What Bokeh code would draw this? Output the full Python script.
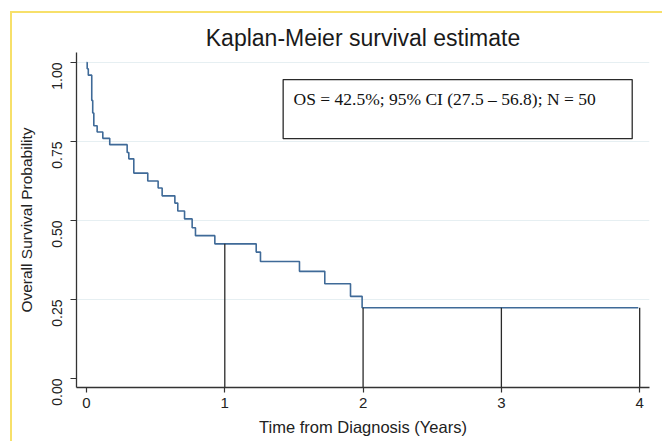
from bokeh.plotting import figure
from bokeh.models import FixedTicker, Range1d, BoxAnnotation, Label, InlineStyleSheet
from bokeh.embed import file_html
from bokeh.resources import INLINE
import math

# --- data (Kaplan-Meier step function) ---
time_years = [0.000, 0.005, 0.013, 0.038, 0.045, 0.053, 0.077, 0.118, 0.168,
              0.294, 0.306, 0.342, 0.443, 0.518, 0.547, 0.639, 0.660, 0.709,
              0.764, 0.788, 0.928, 1.227, 1.258, 1.540, 1.723, 1.909, 1.993, 3.990]
survival = [1.000, 0.980, 0.960, 0.880, 0.840, 0.800, 0.780, 0.760, 0.740,
            0.715, 0.695, 0.650, 0.625, 0.603, 0.578, 0.555, 0.530, 0.505,
            0.477, 0.452, 0.426, 0.400, 0.370, 0.339, 0.300, 0.260, 0.224, 0.224]
marker_years = [1, 2, 3, 4]
x_ticks = [0, 1, 2, 3, 4]
x_tick_labels = ["0", "1", "2", "3", "4"]
y_ticks = [0.0, 0.25, 0.50, 0.75, 1.0]
y_tick_labels = ["0.00", "0.25", "0.50", "0.75", "1.00"]
annotation_text = "OS = 42.5%; 95% CI (27.5 \u2013 56.8); N = 50"

def surv_at(t):
    idx = max(i for i, tt in enumerate(time_years) if tt <= t)
    return survival[idx]

p = figure(width=662, height=441, output_backend="svg", toolbar_location=None,
           x_range=Range1d(-0.0723, 4.071), y_range=Range1d(-0.0285, 1.0316),
           min_border_left=76, min_border_right=13, min_border_top=52,
           min_border_bottom=54)
p.outline_line_color = None
p.background_fill_color = "white"
p.border_fill_color = "white"

# yellow page frame (top and left edges), drawn by CSS over the canvas
p.stylesheets = [InlineStyleSheet(css="""
:host { position: relative; }
:host::after {
  content: ""; position: absolute; left: 10px; top: 11px; right: 0; bottom: 0;
  border-left: 2px solid #f7e06a; border-top: 2px solid #f7e06a;
  pointer-events: none; z-index: 10;
}
""")]

p.title.text = "Kaplan-Meier survival estimate"
p.title.align = "center"
p.title.text_font = "Liberation Sans"
p.title.text_font_size = "23px"
p.title.text_font_style = "normal"
p.title.text_color = "#1a1a1a"
p.title.standoff = 4

# grids
p.xgrid.visible = False
p.ygrid.ticker = FixedTicker(ticks=[v for v in y_ticks if v > 0])
p.ygrid.grid_line_color = "#e6eff2"
p.ygrid.grid_line_width = 1

# axes
for ax in (p.xaxis[0], p.yaxis[0]):
    ax.axis_line_color = "#333333"
    ax.axis_line_width = 1.3
    ax.major_tick_line_color = "#333333"
    ax.major_tick_line_width = 1.2
    ax.major_tick_in = 0
    ax.major_tick_out = 6
    ax.minor_tick_line_color = None
    ax.major_label_text_font = "Liberation Sans"
    ax.major_label_text_color = "#222222"
    ax.axis_label_text_font = "Liberation Sans"
    ax.axis_label_text_font_style = "normal"
    ax.axis_label_text_color = "#222222"

p.xaxis.ticker = FixedTicker(ticks=x_ticks)
p.xaxis.major_label_overrides = {t: l for t, l in zip(x_ticks, x_tick_labels)}
p.xaxis.major_label_text_font_size = "15px"
p.xaxis.major_label_standoff = 5
p.xaxis.axis_label = "Time from Diagnosis (Years)"
p.xaxis.axis_label_text_font_size = "16.5px"
p.xaxis.axis_label_standoff = 7
p.xaxis.major_tick_out = 5

p.yaxis.ticker = FixedTicker(ticks=y_ticks)
p.yaxis.major_label_overrides = {t: l for t, l in zip(y_ticks, y_tick_labels)}
p.yaxis.major_label_text_font_size = "14px"
p.yaxis.major_label_orientation = math.pi / 2
p.yaxis.major_label_standoff = 13
p.yaxis.axis_label = "Overall Survival Probability"
p.yaxis.axis_label_text_font_size = "15.5px"
p.yaxis.axis_label_standoff = 10

# KM curve
p.step(x=time_years, y=survival, mode="after", line_color="#3f6a98", line_width=1.6)

# drop lines at yearly marks
p.segment(x0=marker_years, y0=[surv_at(t) for t in marker_years],
          x1=marker_years, y1=[-0.0285] * len(marker_years),
          line_color="#2a2a2a", line_width=1.3)

# annotation box
box = BoxAnnotation(left=1.422, right=3.946, bottom=0.759, top=0.946,
                    fill_color=None, fill_alpha=0, line_color="#2a2a2a",
                    line_alpha=1, line_width=1.3)
p.add_layout(box)
p.add_layout(Label(x=1.497, y=0.886, text=annotation_text, text_font="Liberation Serif",
                   text_font_size="17.5px", text_color="#111111", text_baseline="alphabetic"))

open("out.html", "w").write(file_html(p, INLINE))
